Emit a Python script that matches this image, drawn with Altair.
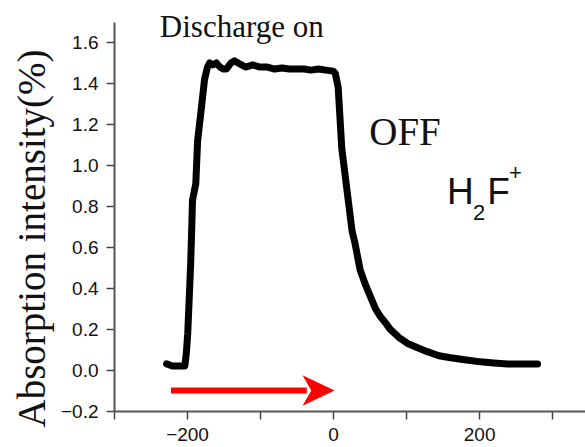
import altair as alt
import pandas as pd

# Time (s) and absorption intensity (%)
time_s = [-228, -220, -210, -203, -201, -199, -197, -195, -194, -192.5, -188, -185.5,
          -180, -176, -172, -169, -165, -160, -155, -150, -146, -140, -135, -130,
          -120, -110, -100, -90, -80, -70, -60, -50, -40, -30, -20, -10, 0, 3, 7,
          12, 19, 26, 30, 37, 44, 51, 58, 65, 72, 78, 90, 102, 115, 129, 145, 161,
          180, 202, 220, 239, 260, 280]
intensity = [0.03, 0.02, 0.02, 0.02, 0.08, 0.18, 0.35, 0.52, 0.64, 0.83, 0.91, 1.12,
             1.29, 1.42, 1.48, 1.50, 1.49, 1.50, 1.48, 1.47, 1.47, 1.50, 1.51, 1.50,
             1.48, 1.49, 1.48, 1.48, 1.47, 1.475, 1.47, 1.47, 1.47, 1.465, 1.47, 1.465,
             1.46, 1.45, 1.38, 1.08, 0.88, 0.68, 0.62, 0.49, 0.42, 0.36, 0.30, 0.26,
             0.23, 0.20, 0.16, 0.13, 0.11, 0.09, 0.07, 0.06, 0.05, 0.04, 0.035, 0.03,
             0.03, 0.03]

y_ticks = [-0.2, -0.1, 0.0, 0.1, 0.2, 0.3, 0.4, 0.5, 0.6, 0.7, 0.8, 0.9, 1.0,
           1.1, 1.2, 1.3, 1.4, 1.5, 1.6, 1.7]
x_ticks = [-300, -250, -200, -150, -100, -50, 0, 50, 100, 150, 200, 250, 300]
x_labels = [-200, 0, 200]

arrow_start = -222
arrow_shaft_end = -36
arrow_tip = 2
arrow_level = -0.1

df = pd.DataFrame({"t": time_s, "a": intensity})

xscale = alt.Scale(domain=[-300, 345], nice=False, zero=False)
yscale = alt.Scale(domain=[-0.2, 1.7], nice=False, zero=False)

x_axis = alt.Axis(
    values=x_ticks, title=None,
    labelExpr="indexof([" + ",".join(str(v) for v in x_labels) + "], datum.value) >= 0 ? format(datum.value, 'd') : ''",
    labelFont="Liberation Sans", labelFontSize=19, labelColor="#111",
    labelPadding=6, tickSize=8, tickWidth=1.5, tickColor="#444",
    domainColor="#555", domainWidth=2, grid=False, labelFlush=False,
)
y_axis = alt.Axis(
    values=y_ticks,
    title="Absorption intensity(%)",
    labelExpr="round(datum.value*10)%2==0 ? format(datum.value, '.1f') : ''",
    labelFont="Liberation Sans", labelFontSize=19, labelColor="#111",
    labelPadding=8,
    tickSize={"condition": {"test": "round(datum.value*10)%2==0", "value": 8}, "value": 5},
    tickWidth=1.5, tickColor="#444",
    domainColor="#555", domainWidth=2, grid=False,
    titleFont="Liberation Serif", titleFontSize=39, titleFontWeight="normal",
    titleColor="#111", titleX=-70, titleY=216, titleAngle=270,
    titleAlign="center", titleBaseline="alphabetic",
)

curve = alt.Chart(df).mark_line(color="black", strokeWidth=7, strokeJoin="round",
                                strokeCap="round").encode(
    x=alt.X("t:Q", scale=xscale, axis=x_axis),
    y=alt.Y("a:Q", scale=yscale, axis=y_axis),
)

arrow_df = pd.DataFrame({"x": [arrow_start], "x2": [arrow_shaft_end], "y": [arrow_level]})
shaft = alt.Chart(arrow_df).mark_rule(color="#ff0000", strokeWidth=6).encode(
    x=alt.X("x:Q", scale=xscale), x2="x2:Q", y=alt.Y("y:Q", scale=yscale))

head_df = pd.DataFrame({"x": [arrow_tip], "y": [arrow_level]})
head = alt.Chart(head_df).mark_point(
    shape="M0,0 L-2,-0.95 L-1.45,0 L-2,0.95 Z", filled=True, color="#ff0000",
    opacity=1, size=1024, strokeWidth=0).encode(
    x=alt.X("x:Q", scale=xscale), y=alt.Y("y:Q", scale=yscale))

ann_df = pd.DataFrame({
    "label": ["Discharge on", "OFF"],
    "x": [-125, 98.5],
    "y": [1.626, 1.099],
    "size": [31, 39],
})
ann = alt.Chart(ann_df).mark_text(font="Liberation Serif", color="#111",
                                  align="center", baseline="alphabetic").encode(
    x=alt.X("x:Q", scale=xscale), y=alt.Y("y:Q", scale=yscale),
    text="label:N", size=alt.Size("size:Q", scale=None, legend=None))

ion_df = pd.DataFrame({
    "label": ["H", "2", "F", "+"],
    "x": [156, 191.5, 211, 241],
    "y": [0.811, 0.733, 0.811, 0.93],
    "size": [37, 22, 37, 22],
})
ion = alt.Chart(ion_df).mark_text(font="Liberation Sans", color="#111",
                                  align="left", baseline="alphabetic").encode(
    x=alt.X("x:Q", scale=xscale), y=alt.Y("y:Q", scale=yscale),
    text="label:N", size=alt.Size("size:Q", scale=None, legend=None))

chart = alt.layer(curve, shaft, head, ann, ion).properties(
    width=471, height=389,
    autosize=alt.AutoSizeParams(type="none"),
    padding={"left": 114, "top": 22, "right": 0, "bottom": 36},
    background="white",
).configure_view(stroke=None)

chart.save("out.html", embed_options={"renderer": "svg", "actions": False})
